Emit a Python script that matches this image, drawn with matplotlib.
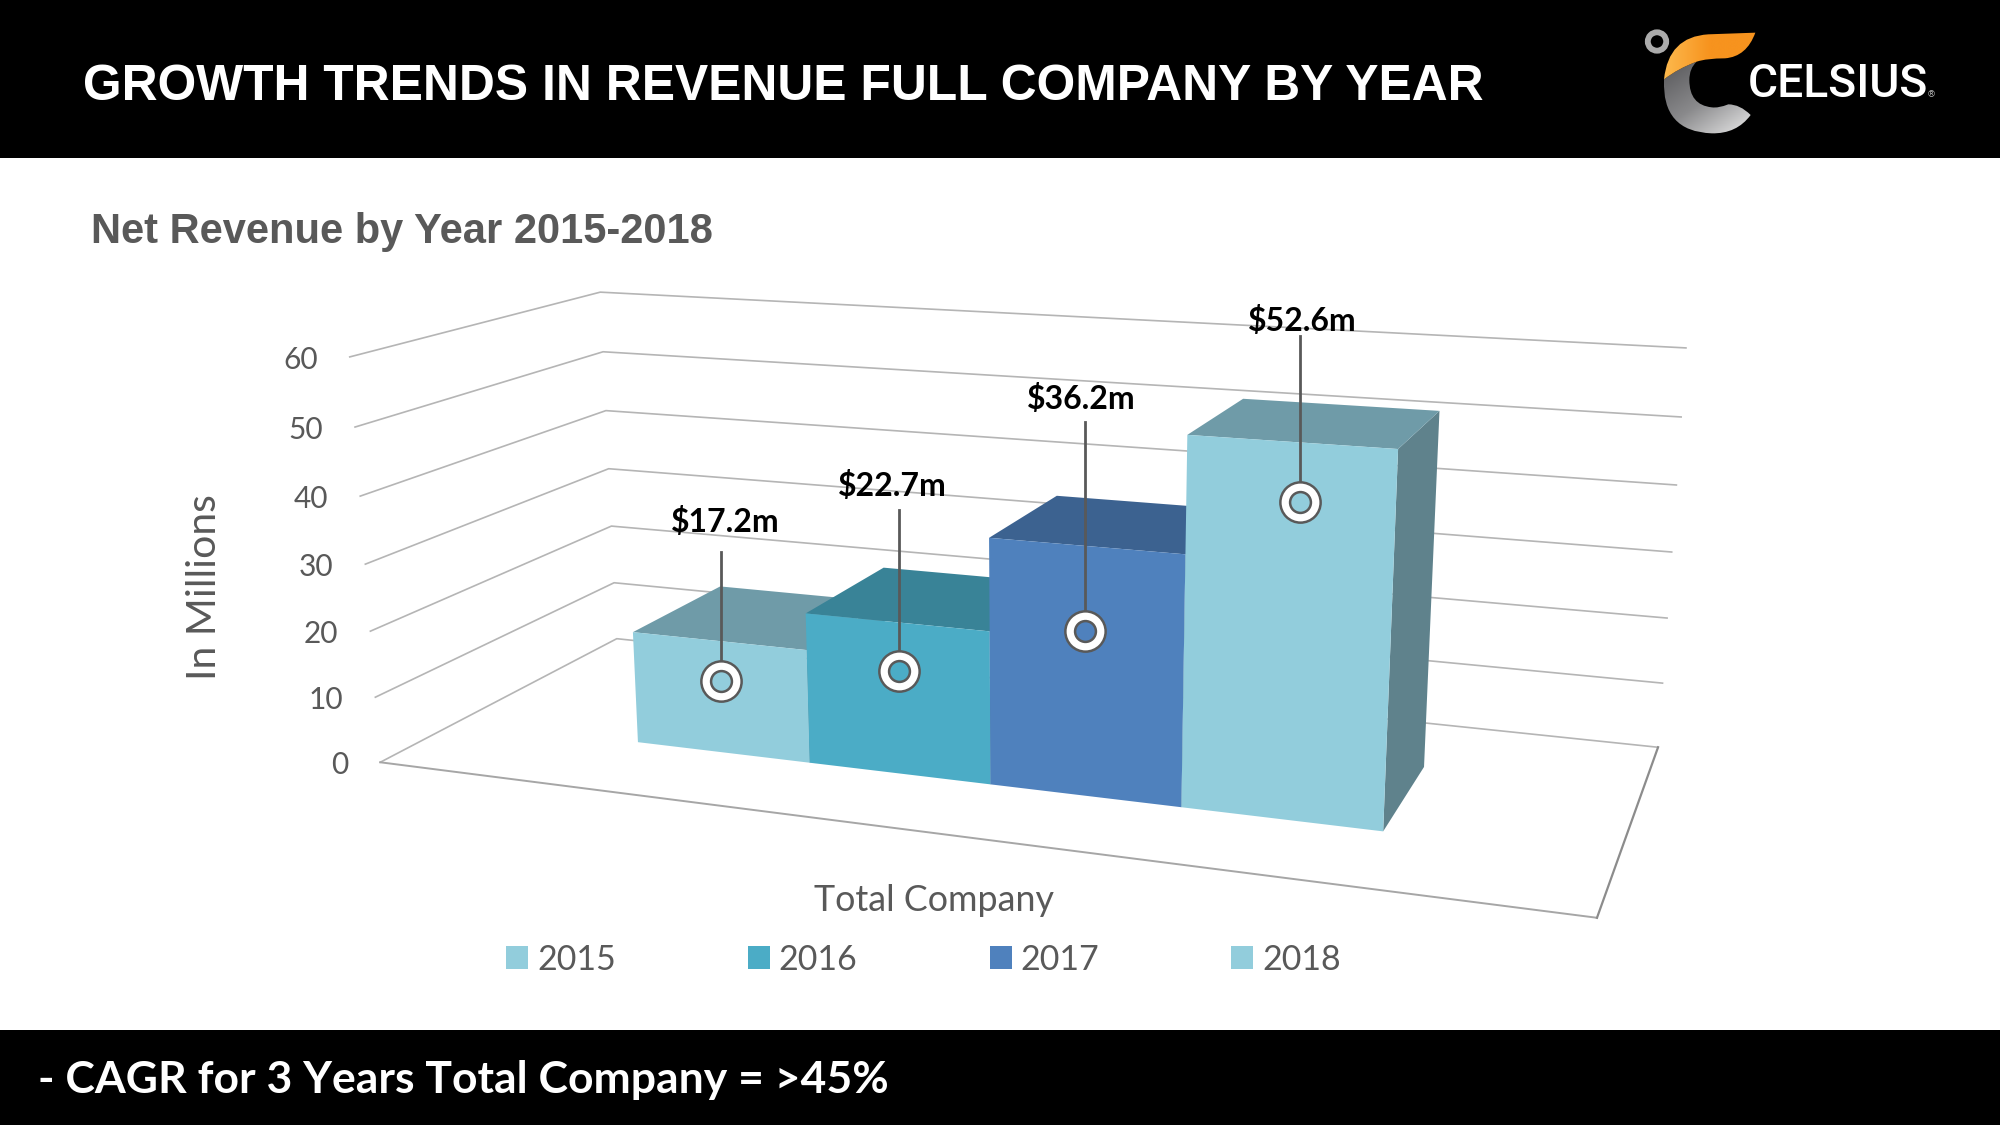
import numpy as np
import matplotlib
matplotlib.use('Agg')
import matplotlib.pyplot as plt
from matplotlib.colors import LinearSegmentedColormap
from matplotlib.patches import Patch, PathPatch, Circle, Rectangle
from matplotlib.path import Path

# Data
years = ['2015', '2016', '2017', '2018']
revenue = [17.2, 22.7, 36.2, 52.6]
labels = ['$17.2m', '$22.7m', '$36.2m', '$52.6m']
ticks = [0, 10, 20, 30, 40, 50, 60]

# Colours per bar: front, top, side
front_cols = ['#92CDDC', '#4BACC6', '#4F81BD', '#92CDDC']
top_cols = ['#6F9BA8', '#398397', '#3C6290', '#6F9BA8']
side_cols = ['#5F828C', '#398397', '#3C6290', '#5F828C']
GREY = '#595959'

# Callouts: value height of the ring on the front face, leader length and label offset in px
ring_z = [11.0, 15.5, 24.1, 44.5]
ring_dx = [1, 2, 0, 10]
leader_len = [129.5, 160.5, 208.5, 166.5]
label_dx = [4, -7, -4, 3]
label_dy = [30, 24, 23, 15]

# Where the 3D box of the chart lands on the slide (x, depth, value) -> pixel
box_world = np.array([[0, 0, 0], [0, 1, 0], [1, 1, 0], [1, 0, 0], [0, 0, 60], [0, 1, 60], [1, 1, 60]], float)
box_pixel = np.array([[380, 762], [617, 639], [1658, 747], [1597, 918], [350, 357], [600, 292], [1686, 348]], float)

BAR_W = 0.1615
BAR_X0 = 0.177
DEPTH = (0.30, 0.705)


def fit_camera(world, pixel):
    A, b = [], []
    for (x, y, z), (u, v) in zip(world, pixel):
        A.append([x, y, z, 1, 0, 0, 0, 0, -u * x, -u * y, -u * z])
        b.append(u)
        A.append([0, 0, 0, 0, x, y, z, 1, -v * x, -v * y, -v * z])
        b.append(v)
    p = np.linalg.lstsq(np.array(A), np.array(b), rcond=None)[0]
    return np.append(p, 1).reshape(3, 4)


camera = fit_camera(box_world, box_pixel)


def proj(x, y, z):
    w = camera @ np.array([x, y, z, 1.0])
    return w[:2] / w[2]


def face(*corners):
    return np.array([proj(*c) for c in corners])


fig = plt.figure(figsize=(20, 11.25), dpi=100, facecolor='white')
ax = fig.add_axes([0, 0, 1, 1])
ax.set_xlim(0, 2000)
ax.set_ylim(1125, 0)
ax.axis('off')

# Black bands
ax.add_patch(Rectangle((0, 0), 2000, 158, fc='black', ec='none'))
ax.add_patch(Rectangle((0, 1030), 2000, 95, fc='black', ec='none'))

ax.text(83, 100.5, 'GROWTH TRENDS IN REVENUE FULL COMPANY BY YEAR', color='white', fontsize=35.8,
        fontweight='bold', family='Liberation Sans', va='baseline')
ax.text(91, 243, 'Net Revenue by Year 2015-2018', color=GREY, fontsize=30,
        fontweight='bold', family='Liberation Sans', va='baseline')
ax.text(38, 1093, '- CAGR for 3 Years Total Company = >45%', color='white', fontsize=32,
        fontweight='bold', family='Lato', va='baseline')

# Grid lines on left and back wall
for t in ticks:
    pts = face((0, 0, t), (0, 1, t), (1, 1, t))
    ax.plot(pts[:, 0], pts[:, 1], color='#B5B5B5', lw=1.2, zorder=2)
    ax.text(pts[0, 0] - 32, pts[0, 1] + 3, str(t), color=GREY, fontsize=21.5, family='Lato',
            ha='right', va='center')

# Floor front and right edge
edge = face((0, 0, 0), (1, 0, 0))
ax.plot(edge[:, 0], edge[:, 1], color='#A6A6A6', lw=1.4, zorder=2)
edge = face((1, 0, 0), (1, 1, 0))
ax.plot(edge[:, 0], edge[:, 1], color='#8C8C8C', lw=1.6, zorder=2)

# Bars, left to right so the taller one hides the side of the previous one
y0, y1 = DEPTH
for i, val in enumerate(revenue):
    xa = BAR_X0 + i * BAR_W
    xb = xa + BAR_W
    side = face((xb, y0, 0), (xb, y1, 0), (xb, y1, val), (xb, y0, val))
    top = face((xa, y0, val), (xb, y0, val), (xb, y1, val), (xa, y1, val))
    front = face((xa, y0, 0), (xb, y0, 0), (xb, y0, val), (xa, y0, val))
    ax.fill(side[:, 0], side[:, 1], color=side_cols[i], lw=0, zorder=3)
    ax.fill(top[:, 0], top[:, 1], color=top_cols[i], lw=0, zorder=3)
    ax.fill(front[:, 0], front[:, 1], color=front_cols[i], lw=0, zorder=3)

# Data callouts
for i in range(len(revenue)):
    xc = BAR_X0 + (i + 0.5) * BAR_W
    rx, ry = proj(xc, y0, ring_z[i])
    rx += ring_dx[i]
    ax.plot([rx, rx], [ry, ry - leader_len[i]], color=GREY, lw=2, zorder=4)
    ax.plot([rx], [ry], marker='o', ms=29, mfc='white', mec=GREY, mew=1.8, zorder=5)
    ax.plot([rx], [ry], marker='o', ms=15, mfc=front_cols[i], mec=GREY, mew=1.8, zorder=6)
    ax.text(rx + label_dx[i], ry - leader_len[i] - label_dy[i], labels[i], color='black', fontsize=23,
            fontweight='bold', family='Lato', ha='center', va='center', zorder=7)

# Axis titles and legend
ax.text(205, 587, 'In Millions', color=GREY, fontsize=29.5, family='Lato', rotation=90, ha='center', va='center')
ax.text(934, 900.5, 'Total Company', color=GREY, fontsize=25.8, family='Lato', ha='center', va='center')
handles = [Patch(facecolor=c, edgecolor='none', label=y) for c, y in zip(front_cols, years)]
leg = ax.legend(handles=handles, ncol=4, frameon=False, loc='center', bbox_to_anchor=(923.5 / 2000, 1 - 959.5 / 1125),
                bbox_transform=fig.transFigure, borderpad=0, borderaxespad=0, handlelength=0.646, handleheight=0.646,
                handletextpad=0.265, columnspacing=3.88, prop={'family': 'Lato', 'size': 24.5})
for txt in leg.get_texts():
    txt.set_color(GREY)


# Logo
def logo_xy(x, y):
    return 1600 + x / 3, y / 3


def logo_path(start, segs):
    verts = [logo_xy(*start)]
    codes = [Path.MOVETO]
    for seg in segs:
        if len(seg) == 2:
            verts.append(logo_xy(*seg))
            codes.append(Path.LINETO)
        else:
            verts += [logo_xy(seg[0], seg[1]), logo_xy(seg[2], seg[3])]
            codes += [Path.CURVE3, Path.CURVE3]
    verts.append(verts[0])
    codes.append(Path.CLOSEPOLY)
    return Path(verts, codes)


def gradient_fill(path, cols, ext, angle):
    patch = PathPatch(path, fc='none', ec='none', transform=ax.transData)
    ax.add_patch(patch)
    gx, gy = np.meshgrid(np.linspace(0, 1, 200), np.linspace(0, 1, 200))
    grad = gx * np.cos(angle) + gy * np.sin(angle)
    cmap = LinearSegmentedColormap.from_list('g', cols)
    im = ax.imshow(grad, extent=ext, cmap=cmap, aspect='auto', origin='upper', zorder=8)
    im.set_clip_path(patch)


orange = logo_path((192, 238), [(205, 110, 325, 103), (466, 98), (440, 170, 375, 175), (320, 175, 290, 185),
                                (235, 205, 192, 238)])
silver = logo_path((192, 238), [(185, 395, 335, 400), (410, 402, 452, 345), (420, 313, 385, 313),
                                (355, 325, 335, 322), (268, 315, 268, 240), (268, 205, 290, 185),
                                (235, 205, 192, 238)])
gradient_fill(silver, ['#555558', '#8A8A8C', '#EDEDED'], (1664, 1752, 136, 60), 0.9)
gradient_fill(orange, ['#FDB94D', '#F7931E', '#F7931E'], (1664, 1756, 80, 32), 0.0)
ax.set_xlim(0, 2000)
ax.set_ylim(1125, 0)
ax.add_patch(Circle((1657, 41.5), 9.2, fc='none', ec='#ABABAB', lw=4.2, zorder=9))
ax.text(1748, 97, 'CELSIUS', color='white', fontsize=33.2, family='Roboto', fontweight='medium', va='baseline', zorder=9)
ax.text(1927, 97, '\u00ae', color='#BBBBBB', fontsize=6.5, family='DejaVu Sans', va='baseline', zorder=9)

fig.savefig('out.png', dpi=100)
